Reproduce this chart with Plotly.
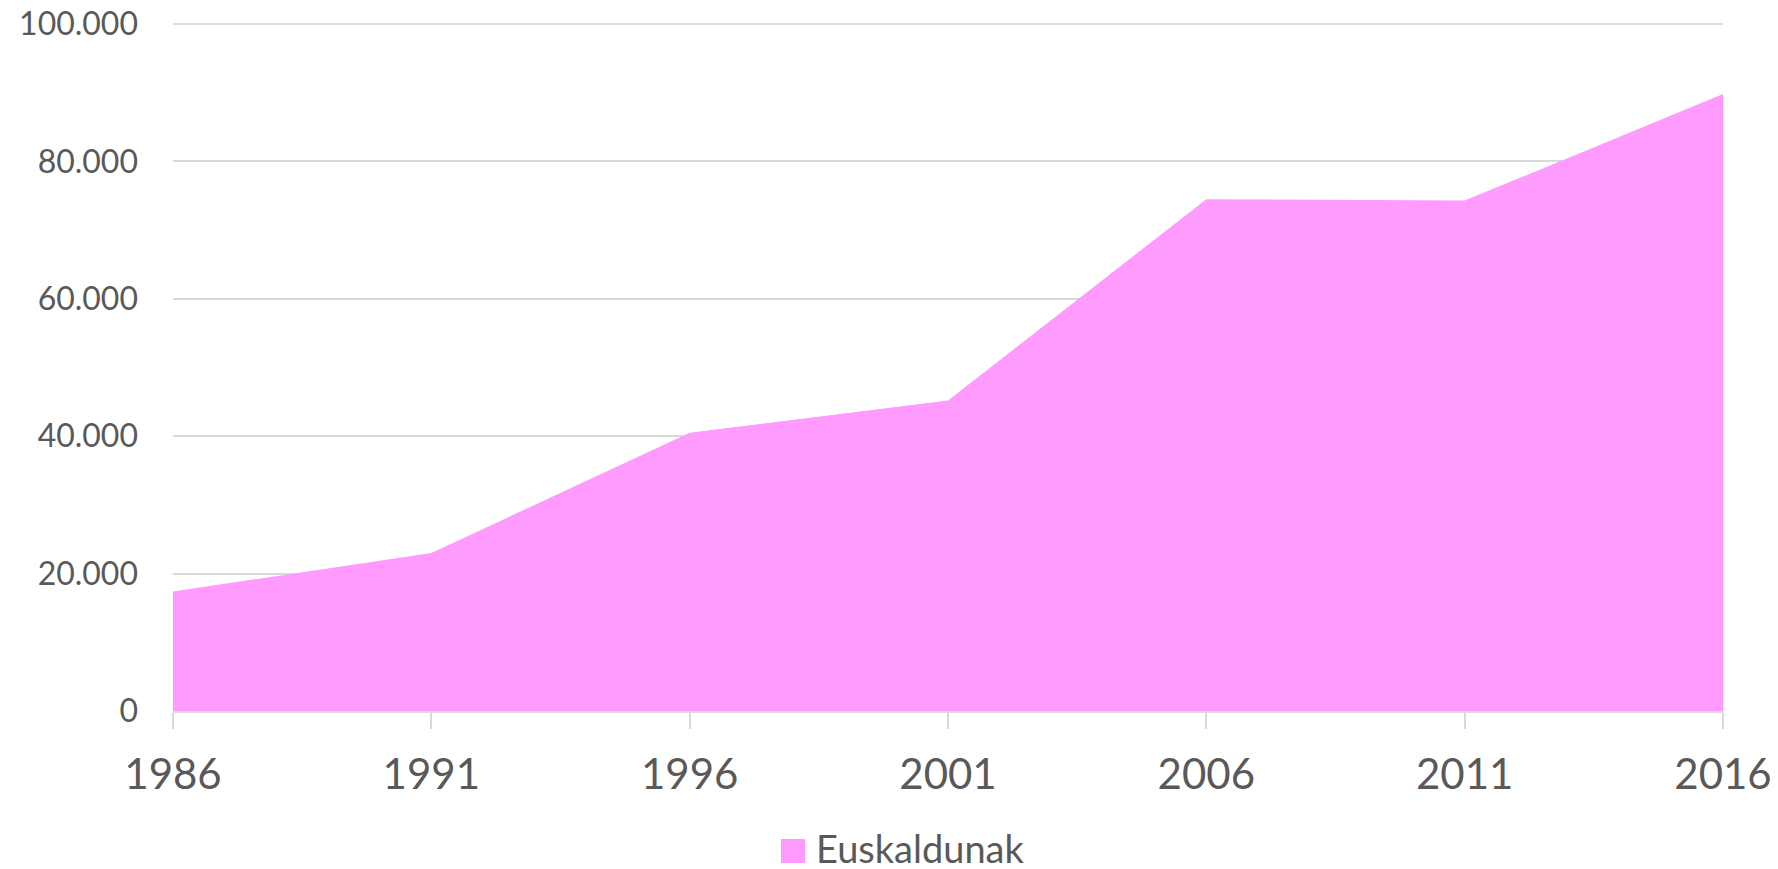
import plotly.graph_objects as go

years = [1986, 1991, 1996, 2001, 2006, 2011, 2016]
euskaldunak = [17400, 23000, 40500, 45200, 74500, 74300, 89800]
y_ticks = [0, 20000, 40000, 60000, 80000, 100000]
y_tick_labels = ["0", "20.000", "40.000", "60.000", "80.000", "100.000"]
series_name = "Euskaldunak"
color = "#FF9BFF"

# page has an 8px body margin, so the figure is 8px smaller than the window
OFF = 8
W, H = 1778 - OFF, 869 - OFF
L, R, T, B = 173 - OFF, 55, 23 - OFF, 158
pw, ph = W - L - R, H - T - B

fig = go.Figure()
fig.add_trace(go.Scatter(
    x=years, y=euskaldunak, mode="lines", fill="tozeroy",
    fillcolor=color, line=dict(width=0, color=color),
    showlegend=False, name=series_name, hoverinfo="x+y",
))

# legend drawn in paper coordinates (square + label); page pixel -> paper
def px_x(p):
    return (p - OFF - L) / pw

def px_y(p):
    return (H - B - (p - OFF)) / ph

fig.add_shape(type="rect", xref="paper", yref="paper",
              x0=px_x(781), x1=px_x(805), y0=px_y(863), y1=px_y(839),
              fillcolor=color, line=dict(width=0))
fig.add_annotation(xref="paper", yref="paper", x=px_x(814), y=px_y(848),
                   xanchor="left", yanchor="middle", showarrow=False,
                   text=series_name, font=dict(family="Lato", size=38, color="#595959"))

fig.update_layout(
    width=W, height=H,
    margin=dict(l=L, r=R, t=T, b=B),
    paper_bgcolor="white", plot_bgcolor="white",
    font=dict(family="Lato", color="#595959"),
    showlegend=False,
)
fig.update_xaxes(
    range=[1986, 2016], tickvals=years, ticktext=[str(y) for y in years],
    showgrid=False, showline=True, linecolor="#d9d9d9", linewidth=1.5,
    ticks="outside", ticklen=16, tickcolor="#d9d9d9", tickwidth=1.5,
    tickfont=dict(size=42, color="#595959"), zeroline=False,
    automargin=False, ticklabelstandoff=10, ticklabeloverflow="allow",
)
fig.update_yaxes(
    range=[0, 100150], tickvals=y_ticks, ticktext=y_tick_labels,
    showgrid=True, gridcolor="#d9d9d9", gridwidth=1.5, zeroline=False,
    showline=False, ticks="", ticklabelstandoff=34,
    tickfont=dict(size=32, color="#595959"), automargin=False,
    ticklabeloverflow="allow",
)

fig.write_html("out.html")
